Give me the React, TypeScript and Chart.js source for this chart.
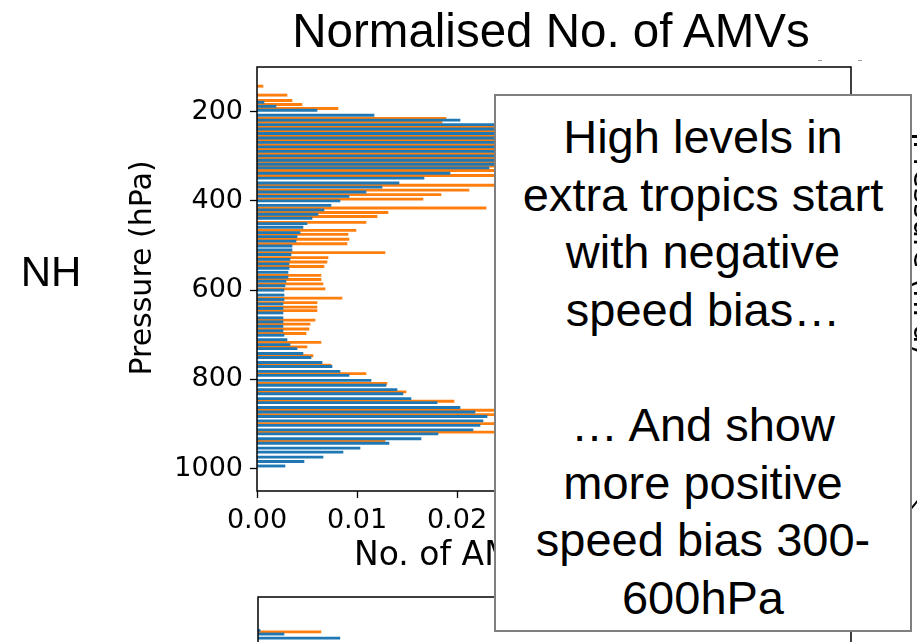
import React, { useEffect, useRef } from "react";
import { Chart, registerables } from "chart.js";

Chart.register(...registerables);

// ---- data ----
const blueLevels = [
  179, 188, 197, 208, 219, 229, 239, 249, 259, 269, 279, 289, 299, 309, 318, 326, 338, 349, 360, 369,
  380, 390, 400, 410, 420, 430, 439, 451, 459, 471, 480, 490, 501, 510, 520, 531, 541, 551, 560, 571,
  580, 590, 600, 611, 621, 631, 641, 651, 662, 671, 681, 691, 701, 711, 722, 731, 742, 751, 762, 771,
  782, 791, 802, 813, 823, 832, 843, 852, 863, 873, 883, 893, 903, 913, 922, 933, 943, 954, 963, 974,
  984, 994,
];
const blueValues = [
  0.0007, 0.0019, 0.006, 0.0117, 0.0203, 0.029, 0.034, 0.037, 0.04, 0.041, 0.04, 0.038, 0.036, 0.032, 0.03, 0.0232, 0.0193, 0.0167, 0.0142, 0.0125,
  0.0109, 0.0092, 0.0083, 0.0074, 0.0067, 0.0061, 0.0055, 0.005, 0.0046, 0.0043, 0.004, 0.0039, 0.0035, 0.0035, 0.0034, 0.0033, 0.0032, 0.0032, 0.0031, 0.0031,
  0.0029, 0.0028, 0.0027, 0.0027, 0.0027, 0.0026, 0.0026, 0.0026, 0.0026, 0.0026, 0.0026, 0.0026, 0.0027, 0.003, 0.0033, 0.004, 0.0046, 0.0054, 0.0065, 0.0075,
  0.0083, 0.0092, 0.0114, 0.0129, 0.014, 0.0146, 0.0154, 0.018, 0.0203, 0.0218, 0.023, 0.0226, 0.0223, 0.0216, 0.0181, 0.0164, 0.0132, 0.0103, 0.0086, 0.0066,
  0.0047, 0.0028,
];
const orangeLevels = [
  143, 163, 175, 184, 193, 215, 224, 234, 244, 254, 264, 274, 284, 294, 304, 314, 322, 332, 343, 365,
  376, 386, 396, 416, 426, 435, 448, 466, 475, 486, 496, 516, 527, 537, 547, 567, 576, 586, 597, 618,
  628, 638, 646, 667, 676, 687, 697, 717, 727, 747, 768, 787, 809, 828, 849, 869, 879, 899, 918, 939,
];
const orangeValues = [
  0.0006, 0.003, 0.0035, 0.0045, 0.0081, 0.0189, 0.0185, 0.031, 0.035, 0.039, 0.042, 0.043, 0.042, 0.04, 0.037, 0.034, 0.03, 0.027, 0.026, 0.025,
  0.0212, 0.0184, 0.0166, 0.0229, 0.0131, 0.012, 0.0109, 0.0099, 0.0091, 0.0092, 0.009, 0.0128, 0.0071, 0.007, 0.0067, 0.0064, 0.0064, 0.0066, 0.0068, 0.0085,
  0.006, 0.006, 0.006, 0.0058, 0.0053, 0.0052, 0.0049, 0.0064, 0.005, 0.0056, 0.0074, 0.0109, 0.013, 0.0149, 0.0197, 0.027, 0.03, 0.029, 0.026, 0.0128,
];
// second (lower) panel, only its top rows are visible
const lowerBlueLevels = [175, 183, 192];
const lowerBlueValues = [0.0002, 0.0026, 0.0082];
const lowerOrangeLevels = [178];
const lowerOrangeValues = [0.0063];

const yTickValues = [200, 400, 600, 800, 1000];
const xTickValues = [0, 0.01, 0.02, 0.03, 0.04, 0.05];
const pressureMin = 100;
const pressureMax = 1050;
const xMax = 0.0594;

const BLUE = "#1f77b4";
const ORANGE = "#ff7f0e";
const MPL_FONT = "'DejaVu Sans', sans-serif";
const SLIDE_FONT = "'Liberation Sans', Arial, sans-serif";

const toPoints = (levels: number[], values: number[]) =>
  levels.map((p, i) => ({ x: values[i], y: p }));

const framePlugin = {
  id: "frame",
  afterDatasetsDraw(chart: any) {
    const { ctx, chartArea: a } = chart;
    ctx.save();
    ctx.strokeStyle = "#000";
    ctx.lineWidth = 1.5;
    ctx.strokeRect(a.left, a.top, a.right - a.left, a.bottom - a.top);
    ctx.restore();
  },
};

const axisTitlesPlugin = {
  id: "axisTitles",
  afterDraw(chart: any) {
    const { ctx } = chart;
    ctx.save();
    ctx.fillStyle = "#000";
    ctx.font = `33px ${MPL_FONT}`;
    ctx.textAlign = "left";
    ctx.textBaseline = "alphabetic";
    ctx.fillText("No. of AMVs", 354, 565);
    ctx.translate(143, 268);
    ctx.rotate(-Math.PI / 2);
    ctx.font = `30px ${MPL_FONT}`;
    ctx.textAlign = "center";
    ctx.textBaseline = "middle";
    ctx.fillText("Pressure (hPa)", 0, 0);
    ctx.restore();
  },
};

export default function App() {
  const mainRef = useRef<HTMLCanvasElement | null>(null);
  const lowerRef = useRef<HTMLCanvasElement | null>(null);

  useEffect(() => {
    if (!mainRef.current || !lowerRef.current) return;
    const tickFont = { family: MPL_FONT, size: 27 };
    const main = new Chart(mainRef.current, {
      type: "bar",
      data: {
        datasets: [
          {
            label: "blue",
            data: toPoints(blueLevels, blueValues),
            backgroundColor: BLUE,
            barThickness: 2.2,
            grouped: false,
          },
          {
            label: "orange",
            data: toPoints(orangeLevels, orangeValues),
            backgroundColor: ORANGE,
            barThickness: 2.2,
            grouped: false,
          },
        ],
      } as any,
      options: {
        indexAxis: "y",
        responsive: false,
        animation: false,
        events: [],
        layout: { padding: { left: 0, top: 67, right: 66, bottom: 0 } },
        plugins: { legend: { display: false }, tooltip: { enabled: false } },
        scales: {
          y: {
            type: "linear",
            reverse: true,
            offset: false,
            min: pressureMin,
            max: pressureMax,
            afterBuildTicks: (axis: any) => {
              axis.ticks = yTickValues.map((v) => ({ value: v }));
            },
            afterFit: (scale: any) => {
              scale.width = 257;
            },
            ticks: { font: tickFont, color: "#000", padding: 7, callback: (v: any) => String(v) },
            grid: { offset: false, drawOnChartArea: false, tickLength: 7, tickColor: "#000", tickWidth: 1.3 },
            border: { display: false },
          },
          x: {
            type: "linear",
            offset: false,
            min: 0,
            max: xMax,
            afterBuildTicks: (axis: any) => {
              axis.ticks = xTickValues.map((v) => ({ value: v }));
            },
            afterFit: (scale: any) => {
              scale.height = 151;
            },
            ticks: { font: tickFont, color: "#000", padding: 7, maxRotation: 0, callback: (v: any) => Number(v).toFixed(2) },
            grid: { offset: false, drawOnChartArea: false, tickLength: 7, tickColor: "#000", tickWidth: 1.3 },
            border: { display: false },
          },
        },
      } as any,
      plugins: [framePlugin, axisTitlesPlugin],
    });

    const lower = new Chart(lowerRef.current, {
      type: "bar",
      data: {
        datasets: [
          {
            label: "blue",
            data: toPoints(lowerBlueLevels, lowerBlueValues),
            backgroundColor: BLUE,
            barThickness: 2.2,
            grouped: false,
          },
          {
            label: "orange",
            data: toPoints(lowerOrangeLevels, lowerOrangeValues),
            backgroundColor: ORANGE,
            barThickness: 2.2,
            grouped: false,
          },
        ],
      } as any,
      options: {
        indexAxis: "y",
        responsive: false,
        animation: false,
        events: [],
        layout: { padding: { left: 0, top: 7, right: 66, bottom: 0 } },
        plugins: { legend: { display: false }, tooltip: { enabled: false } },
        scales: {
          y: {
            type: "linear",
            reverse: true,
            offset: false,
            min: pressureMin,
            max: pressureMax,
            afterFit: (scale: any) => {
              scale.width = 258;
            },
            ticks: { display: false },
            grid: { display: false, offset: false },
            border: { display: false },
          },
          x: { type: "linear", min: 0, max: xMax, display: false, offset: false },
        },
      } as any,
      plugins: [framePlugin],
    });

    return () => {
      main.destroy();
      lower.destroy();
    };
  }, []);

  const textLines = [
    "High levels in",
    "extra tropics start",
    "with negative",
    "speed bias…",
    "\u00a0",
    "… And show",
    "more positive",
    "speed bias 300-",
    "600hPa",
  ];

  return (
    <div
      style={{
        position: "absolute",
        left: 0,
        top: 0,
        width: 917,
        height: 642,
        overflow: "hidden",
        background: "#fff",
      }}
    >
      <canvas ref={mainRef} width={917} height={642} style={{ position: "absolute", left: 0, top: 0 }} />
      <canvas ref={lowerRef} width={917} height={431} style={{ position: "absolute", left: 0, top: 590 }} />

      <div
        style={{
          position: "absolute",
          left: 251,
          top: 7,
          width: 600,
          textAlign: "center",
          font: `47.5px ${SLIDE_FONT}`,
          lineHeight: "47px",
          color: "#000",
          whiteSpace: "nowrap",
        }}
      >
        Normalised No. of AMVs
      </div>

      <div
        style={{
          position: "absolute",
          left: 0,
          top: 251,
          width: 102,
          textAlign: "center",
          font: `42px ${SLIDE_FONT}`,
          lineHeight: "42px",
          color: "#000",
        }}
      >
        NH
      </div>

      {/* clipped rotated label of the neighbouring panel */}
      <div
        style={{
          position: "absolute",
          left: 906,
          top: 140,
          writingMode: "vertical-rl",
          font: `30px ${MPL_FONT}`,
          lineHeight: "36px",
          color: "#000",
          whiteSpace: "nowrap",
        }}
      >
        Pressure (hPa)
      </div>
      <div style={{ position: "absolute", left: 911, top: 135, width: 8, height: 3, background: "#000" }} />
      <div
        style={{
          position: "absolute",
          left: 909,
          top: 503,
          width: 12,
          height: 2,
          background: "#000",
          transform: "rotate(-50deg)",
        }}
      />
      <div style={{ position: "absolute", left: 818, top: 60, width: 4, height: 1, background: "#999" }} />
      <div style={{ position: "absolute", left: 858, top: 60, width: 4, height: 1, background: "#999" }} />

      <div
        style={{
          position: "absolute",
          left: 494,
          top: 94,
          width: 418,
          height: 538,
          boxSizing: "border-box",
          border: "2px solid #7f7f7f",
          background: "#fff",
          paddingTop: 12,
          textAlign: "center",
          font: `47px ${SLIDE_FONT}`,
          lineHeight: "57.6px",
          color: "#000",
        }}
      >
        {textLines.map((t, i) => (
          <div key={i} style={{ whiteSpace: "nowrap" }}>
            {t}
          </div>
        ))}
      </div>
    </div>
  );
}
